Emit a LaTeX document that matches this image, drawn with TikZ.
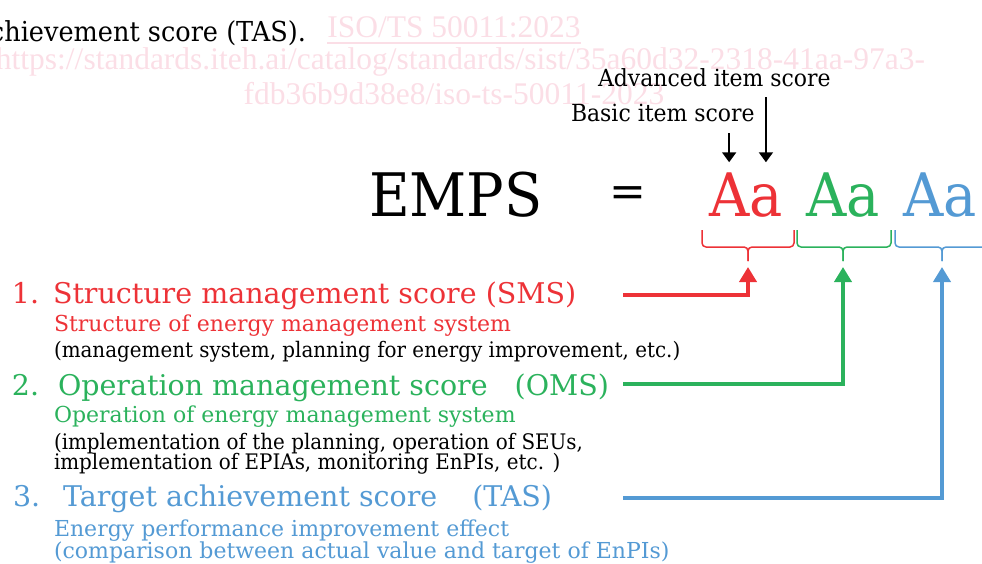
\documentclass[tikz,border=0pt]{standalone}
\usepackage{fontspec}
\setmainfont{DejaVu Serif}
\newfontfamily\narrowfont[FakeStretch=0.93]{DejaVu Serif}
\newfontfamily\markfont{Liberation Serif}
\usetikzlibrary{arrows.meta}
\definecolor{smsred}{RGB}{237,50,55}
\definecolor{omsgreen}{RGB}{43,178,92}
\definecolor{tasblue}{RGB}{84,154,212}
\definecolor{markpink}{RGB}{251,222,230}

\begin{document}
\begin{tikzpicture}[x=1pt,y=-1pt]
    % Canvas
    \useasboundingbox (0,0) rectangle (982,564);
    % Font sizes
    \newcommand{\headsize}{\fontsize{28.5}{30}\selectfont}
    \newcommand{\subsize}{\fontsize{22}{24}\selectfont}
    \newcommand{\notesize}{\fontsize{21.4}{23}\selectfont}
    \newcommand{\labelsize}{\fontsize{23.6}{25}\selectfont}
    \newcommand{\marksize}{\fontsize{31.5}{33}\selectfont}
    \newcommand{\bigsize}{\fontsize{60}{62}\selectfont}
    % x of the connector starts
    \newcommand{\xstart}{623}
    % Styles
    \tikzstyle{textline}=[anchor=base west, inner sep=0, outer sep=0]
    \tikzstyle{watermark}=[inner sep=0, outer sep=0, markpink, font=\markfont\marksize]
    \tikzstyle{pointer}=[-{Triangle[width=14pt,length=10pt]}, line width=2]
    \tikzstyle{feedarrow}=[-{Triangle[width=17pt,length=15pt]}, line width=4, shorten >=6pt]
    \tikzstyle{bracket}=[line width=1.5, rounded corners=4]

    % Watermark
    \node[watermark, anchor=base] (iso) at (454,38) {ISO/TS 50011:2023};
    \draw[markpink, line width=1.5] ([yshift=-5pt]iso.base west) -- ([yshift=-5pt]iso.base east);
    \node[watermark, anchor=base east] (url) at (925,70)
    {https://standards.iteh.ai/catalog/standards/sist/35a60d32-2318-41aa-97a3-};
    \node[watermark, anchor=base] (path) at (454,105) {fdb36b9d38e8/iso-ts-50011-2023};

    % Text cut at the top
    \node[textline, anchor=base east, font=\narrowfont\fontsize{27.5}{29}\selectfont] (prev) at (306,42)
    {achievement score (TAS).};

    % Formula
    \node[textline, font=\narrowfont\bigsize] (emps) at (369,217) {EMPS};
    \node[inner sep=0, font=\fontsize{44}{46}\selectfont] (eq) at (628,197) {=};
    \foreach \name/\col/\x in {sms/smsred/709, oms/omsgreen/806, tas/tasblue/903}
      {
        \node[textline, \col, font=\narrowfont\bigsize] (\name-A) at (\x,217) {A};
        \node[textline, \col, font=\narrowfont\bigsize] (\name-a) at (\name-A.base east) {a};
      }

    % Item score labels
    \node[textline, font=\narrowfont\labelsize] (adv) at (598,87) {Advanced item score};
    \node[textline, font=\narrowfont\labelsize] (basic) at (571,122) {Basic item score};
    \draw[pointer, shorten <=10pt, shorten >=11pt] (adv.south -| sms-a.center) -- (sms-a.center |- sms-A.north);
    \draw[pointer, shorten <=11pt, shorten >=11pt] (basic.south -| sms-A.center) -- (sms-A.north);

    % Braces under the letters
    \foreach \name/\col/\xa/\xb/\xm in {sms/smsred/702/794/748, oms/omsgreen/797/891/843, tas/tasblue/895/1000/942}
      {
        \draw[bracket, \col] (\xa,230) |- (\xm,247) -- (\xm,261) coordinate (\name-tip);
        \draw[bracket, \col] (\xb,230) |- (\xm,247) -- (\xm,261);
      }

    % Score 1
    \node[textline, smsred, font=\headsize] (sms-num) at (12,303) {1.};
    \node[textline, smsred, font=\headsize] (sms-head) at (53,303) {Structure management score (SMS)};
    \node[textline, smsred, font=\subsize] (sms-sub) at (54,331) {Structure of energy management system};
    \node[textline, font=\narrowfont\notesize] (sms-note) at (54,357)
    {(management system, planning for energy improvement, etc.)};
    % Score 2
    \node[textline, omsgreen, font=\headsize] (oms-num) at (12,395) {2.};
    \node[textline, omsgreen, font=\headsize] (oms-head) at (58,395)
    {Operation management score\hspace{27pt}(OMS)};
    \node[textline, omsgreen, font=\subsize] (oms-sub) at (54,422) {Operation of energy management system};
    \node[textline, font=\narrowfont\notesize] (oms-note-1) at (54,449)
    {(implementation of the planning, operation of SEUs,};
    \node[textline, font=\narrowfont\notesize] (oms-note-2) at (54,469)
    {implementation of EPIAs, monitoring EnPIs, etc. )};
    % Score 3
    \node[textline, tasblue, font=\headsize] (tas-num) at (13,506) {3.};
    \node[textline, tasblue, font=\headsize] (tas-head) at (63,506)
    {Target achievement score\hspace{35pt}(TAS)};
    \node[textline, tasblue, font=\subsize] (tas-sub) at (54,536) {Energy performance improvement effect};
    \node[textline, tasblue, font=\subsize] (tas-note) at (54,558)
    {(comparison between actual value and target of EnPIs)};

    % Connectors
    \coordinate (sms-start) at (\xstart,295);
    \coordinate (oms-start) at (\xstart,384);
    \coordinate (tas-start) at (\xstart,498);
    \foreach \name/\col in {sms/smsred, oms/omsgreen, tas/tasblue}
      {
        \draw[feedarrow, \col] (\name-start) -| (\name-tip);
      }
\end{tikzpicture}
\end{document}
